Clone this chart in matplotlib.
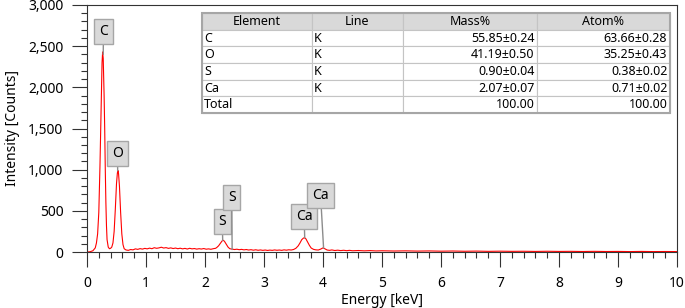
import matplotlib
matplotlib.use("Agg")
import matplotlib.pyplot as plt
from matplotlib.ticker import MultipleLocator, StrMethodFormatter
from matplotlib.patches import Rectangle

plt.rcParams['font.family'] = ['Noto Sans', 'DejaVu Sans']

# --- spectrum ---
energy = [0.00, 0.05, 0.10, 0.14, 0.16, 0.18, 0.20, 0.22, 0.24, 0.255, 0.265, 0.275,
          0.29, 0.30, 0.31, 0.32, 0.33, 0.34, 0.36, 0.38, 0.40, 0.42,
          0.44, 0.46, 0.48, 0.50, 0.515, 0.525, 0.535, 0.55, 0.57, 0.59, 0.61, 0.63, 0.66, 0.70,
          0.74, 0.78, 0.82, 0.86, 0.90, 0.94, 0.98, 1.02, 1.06, 1.10, 1.14, 1.18, 1.22, 1.26,
          1.30, 1.34, 1.38, 1.42, 1.46, 1.50, 1.54, 1.58, 1.62, 1.66, 1.70, 1.74, 1.78, 1.82,
          1.86, 1.90, 1.94, 1.98, 2.02, 2.06, 2.10, 2.14, 2.18,
          2.20, 2.23, 2.26, 2.29, 2.31, 2.33, 2.36, 2.39, 2.42, 2.46, 2.50, 2.54, 2.58, 2.62,
          2.66, 2.70, 2.74, 2.78, 2.82, 2.86, 2.90, 2.94, 2.98, 3.02, 3.06, 3.10, 3.14, 3.18,
          3.22, 3.26, 3.30, 3.34, 3.38, 3.42, 3.46, 3.50,
          3.54, 3.58, 3.61, 3.64, 3.67, 3.69, 3.71, 3.74, 3.77, 3.80, 3.84, 3.88, 3.92, 3.96,
          4.00, 4.03, 4.07, 4.11, 4.15, 4.20, 4.25, 4.30, 4.35, 4.40, 4.45, 4.50, 4.60, 4.70,
          4.80, 4.90, 5.00, 5.2, 5.4, 5.6, 5.8, 6.0, 6.2, 6.4, 6.6, 6.8, 7.0, 7.2, 7.4, 7.6,
          7.8, 8.0, 8.2, 8.4, 8.6, 8.8, 9.0, 9.2, 9.4, 9.6, 9.8, 10.0]
counts = [0, 3, 15, 50, 110, 220, 480, 1050, 1800, 2300, 2430, 2350,
          1900, 1500, 1000, 600, 320, 150, 60, 40, 45, 60,
          110, 250, 520, 830, 960, 990, 950, 800, 480, 220, 90, 40, 25, 20,
          30, 26, 38, 32, 41, 35, 44, 38, 47, 40, 52, 45, 50, 58,
          48, 53, 44, 50, 42, 48, 40, 46, 38, 44, 36, 45, 38, 42,
          35, 40, 36, 42, 34, 38, 33, 40, 45,
          55, 75, 105, 135, 142, 130, 95, 60, 40, 35, 30, 34, 28, 32,
          26, 30, 24, 28, 22, 27, 21, 25, 20, 24, 19, 23, 20, 25,
          21, 24, 20, 26, 22, 27, 24, 30,
          45, 75, 110, 150, 170, 172, 160, 120, 80, 48, 32, 26, 24, 35,
          50, 40, 24, 20, 25, 18, 22, 17, 21, 16, 20, 15, 18, 14,
          17, 13, 15, 12, 14, 11, 13, 10, 12, 9, 11, 8, 10, 8, 9, 7,
          9, 7, 8, 6, 8, 6, 7, 5, 7, 5, 6, 5]

# --- peak labels: text, peak position, label position ---
peak_labels = ['C', 'O', 'S', 'S', 'Ca', 'Ca']
peak_xy = [(0.275, 2400), (0.52, 985), (2.30, 140), (2.46, 30), (3.69, 172), (4.01, 45)]
label_xy = [(0.279, 2680), (0.516, 1195), (2.293, 372), (2.453, 660), (3.68, 428), (3.959, 684)]

# --- quantification table ---
col_names = ['Element', 'Line', 'Mass%', 'Atom%']
elements = ['C', 'O', 'S', 'Ca', 'Total']
lines = ['K', 'K', 'K', 'K', '']
mass_pct = ['55.85±0.24', '41.19±0.50', '0.90±0.04', '2.07±0.07', '100.00']
atom_pct = ['63.66±0.28', '35.25±0.43', '0.38±0.02', '0.71±0.02', '100.00']

fig = plt.figure(figsize=(6.85, 3.08), dpi=100)
ax = fig.add_axes([87 / 685, 56 / 308, 590 / 685, 247 / 308])

ax.plot(energy, counts, color='red', lw=0.8)

ax.set_xlim(0, 10)
ax.set_ylim(0, 3000)
ax.xaxis.set_major_locator(MultipleLocator(1))
ax.xaxis.set_minor_locator(MultipleLocator(0.2))
ax.yaxis.set_major_locator(MultipleLocator(500))
ax.yaxis.set_minor_locator(MultipleLocator(100))
ax.yaxis.set_major_formatter(StrMethodFormatter('{x:,.0f}'))
ax.tick_params(which='major', length=11, width=0.8, color='#333333', labelsize=10, pad=6)
ax.tick_params(which='minor', length=4.5, width=0.8, color='#333333')
for s in ax.spines.values():
    s.set_color('#333333')
    s.set_linewidth(0.8)

ax.set_xlabel('Energy [keV]', fontsize=10, labelpad=2)
ax.set_ylabel('Intensity [Counts]', fontsize=10, labelpad=6)

for txt, xy, xyt in zip(peak_labels, peak_xy, label_xy):
    ax.annotate(txt, xy=xy, xytext=xyt, ha='center', va='center', fontsize=10,
                bbox=dict(boxstyle='square,pad=0.35', fc='#d9d9d9', ec='#a6a6a6', lw=1),
                arrowprops=dict(arrowstyle='-', color='#8c8c8c', lw=1, shrinkA=0, shrinkB=0))

cell_text = [list(r) for r in zip(elements, lines, mass_pct, atom_pct)]
tx0, tx1 = (202 - 87) / 590, (670 - 87) / 590
ty0, ty1 = (252 - 113) / 247, (252 - 13) / 247
tbl = ax.table(cellText=cell_text, colLabels=col_names,
               colWidths=[110, 91, 134, 133],
               bbox=[tx0, ty0, tx1 - tx0, ty1 - ty0])
tbl.auto_set_font_size(False)
tbl.set_fontsize(9)
for (r, c), cell in tbl.get_celld().items():
    cell.set_edgecolor('#c4c4c4')
    cell.set_linewidth(0.8)
    cell.PAD = 0.02
    if r == 0:
        loc = 'center'
        cell.set_facecolor('#d9d9d9')
    elif c < 2:
        loc = 'left'
    else:
        loc = 'right'
    cell._loc = loc
    cell.get_text().set_horizontalalignment(loc)
ax.add_patch(Rectangle((tx0, ty0), tx1 - tx0, ty1 - ty0, transform=ax.transAxes,
                       fill=False, ec='#a6a6a6', lw=1.5, zorder=10))

fig.savefig('out.png', dpi=100)
